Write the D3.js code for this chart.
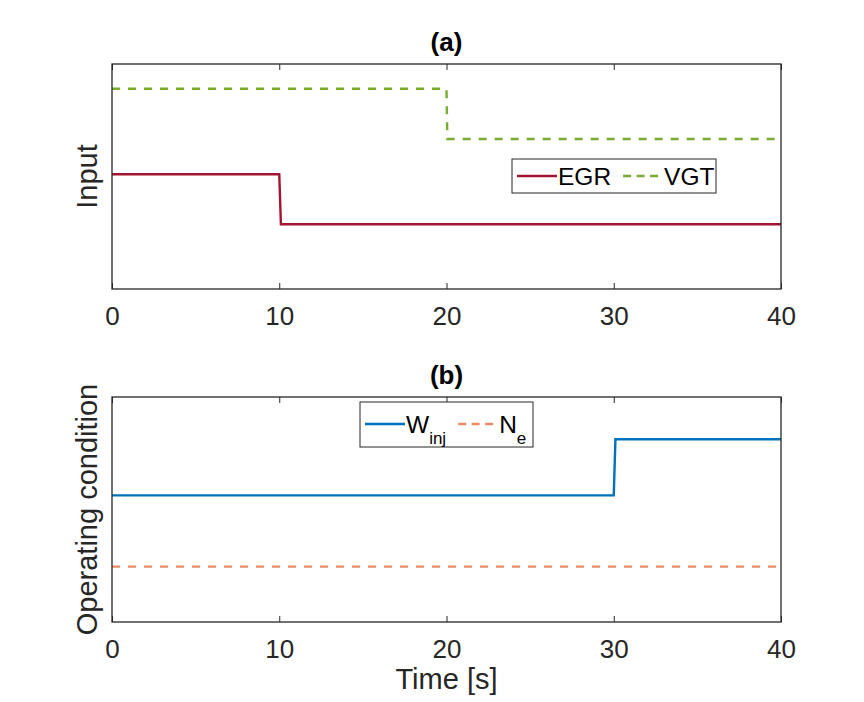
<!DOCTYPE html>
<html lang="en">
<head>
    <meta charset="UTF-8">
    <title>Input and operating condition</title>
    <style>
        body { margin: 0; padding: 0; background: #fff; }
        svg { font-family: Arial, "Liberation Sans", sans-serif; }
        .frame { fill: none; stroke: #262626; stroke-width: 1.3px; }
        .tick line { stroke: #262626; stroke-width: 1px; }
        .tick text { fill: #262626; font-size: 26px; }
        .domain { display: none; }
        .series { fill: none; stroke-width: 2.4px; }
    </style>
</head>
<body>
    <div id="chart"></div>

    <script src="https://d3js.org/d3.v7.min.js"></script>
    <script>
        // Data (y axes have no ticks, so values are normalised 0..1)
        const xTicks = [0, 10, 20, 30, 40];

        const egrTime = [0, 10, 10.1, 40];
        const egrValues = [0.51, 0.51, 0.288, 0.288];

        const vgtTime = [0, 20, 20.05, 40];
        const vgtValues = [0.89, 0.89, 0.667, 0.667];

        const winjTime = [0, 30, 30.1, 40];
        const winjValues = [0.563, 0.563, 0.8125, 0.8125];

        const neTime = [0, 40];
        const neValues = [0.246, 0.246];

        const width = 864, height = 702;
        const left = 112, right = 781;

        const panels = [
            {
                title: "(a)", ylabel: "Input", top: 64, bottom: 289,
                series: [
                    { name: "EGR", t: egrTime, v: egrValues, color: "#A2142F", dash: null },
                    { name: "VGT", t: vgtTime, v: vgtValues, color: "#77AC30", dash: "8,8" }
                ],
                legend: { x: 512, y: 159, w: 204, h: 34 }
            },
            {
                title: "(b)", ylabel: "Operating condition", top: 397, bottom: 622,
                series: [
                    { name: "W", sub: "inj", t: winjTime, v: winjValues, color: "#0072BD", dash: null },
                    { name: "N", sub: "e", t: neTime, v: neValues, color: "#E98A62", dash: "8,8" }
                ],
                legend: { x: 360, y: 402, w: 173, h: 45 }
            }
        ];

        const svg = d3.select("#chart").append("svg")
            .attr("width", width)
            .attr("height", height);

        const x = d3.scaleLinear().domain([0, 40]).range([left, right]);

        panels.forEach(function(p) {
            const y = d3.scaleLinear().domain([0, 1]).range([p.bottom, p.top]);
            const g = svg.append("g");

            const line = d3.line()
                .x(d => x(d[0]))
                .y(d => y(d[1]));

            // series
            p.series.forEach(function(s) {
                g.append("path")
                    .attr("class", "series")
                    .attr("d", line(s.t.map((t, i) => [t, s.v[i]])))
                    .attr("stroke", s.color)
                    .attr("stroke-dasharray", s.dash);
            });

            // bottom axis with inward ticks
            const ax = g.append("g")
                .attr("transform", `translate(0,${p.bottom})`)
                .call(d3.axisBottom(x).tickValues(xTicks).tickSize(-6).tickPadding(18).tickFormat(d3.format("d")));
            ax.selectAll(".tick text").attr("dy", "0.71em");

            // mirrored top ticks
            g.append("g")
                .attr("transform", `translate(0,${p.top})`)
                .call(d3.axisTop(x).tickValues(xTicks).tickSize(-6).tickFormat(""));

            g.append("rect")
                .attr("class", "frame")
                .attr("x", left)
                .attr("y", p.top)
                .attr("width", right - left)
                .attr("height", p.bottom - p.top);

            // title
            g.append("text")
                .attr("x", (left + right) / 2)
                .attr("y", p.top - 13)
                .attr("text-anchor", "middle")
                .style("font-size", "26px")
                .style("font-weight", "bold")
                .attr("fill", "#000")
                .text(p.title);

            // y label
            g.append("text")
                .attr("transform", `translate(97,${(p.top + p.bottom) / 2}) rotate(-90)`)
                .attr("text-anchor", "middle")
                .style("font-size", "29px")
                .attr("fill", "#262626")
                .text(p.ylabel);

            // legend
            const L = p.legend;
            const lg = g.append("g").attr("transform", `translate(${L.x},${L.y})`);
            lg.append("rect")
                .attr("width", L.w)
                .attr("height", L.h)
                .attr("fill", "#fff")
                .attr("stroke", "#262626")
                .attr("stroke-width", 1);

            let cx = 5;
            const midY = p.title === "(a)" ? 17 : 22;
            p.series.forEach(function(s) {
                lg.append("line")
                    .attr("x1", cx).attr("x2", cx + 40)
                    .attr("y1", midY).attr("y2", midY)
                    .attr("stroke", s.color)
                    .attr("stroke-width", 2.4)
                    .attr("stroke-dasharray", s.dash ? "8,5.5" : null);
                cx += 41;
                const t = lg.append("text")
                    .attr("x", cx)
                    .attr("y", midY + 8.5)
                    .style("font-size", "24.5px")
                    .attr("fill", "#000")
                    .text(s.name);
                if (s.sub) {
                    t.append("tspan")
                        .attr("dy", 11)
                        .style("font-size", "17px")
                        .text(s.sub);
                }
                cx += t.node().getComputedTextLength() + 12;
            });
        });

        // x label
        svg.append("text")
            .attr("x", (left + right) / 2)
            .attr("y", 689)
            .attr("text-anchor", "middle")
            .style("font-size", "29px")
            .attr("fill", "#262626")
            .text("Time [s]");
    </script>
</body>
</html>
